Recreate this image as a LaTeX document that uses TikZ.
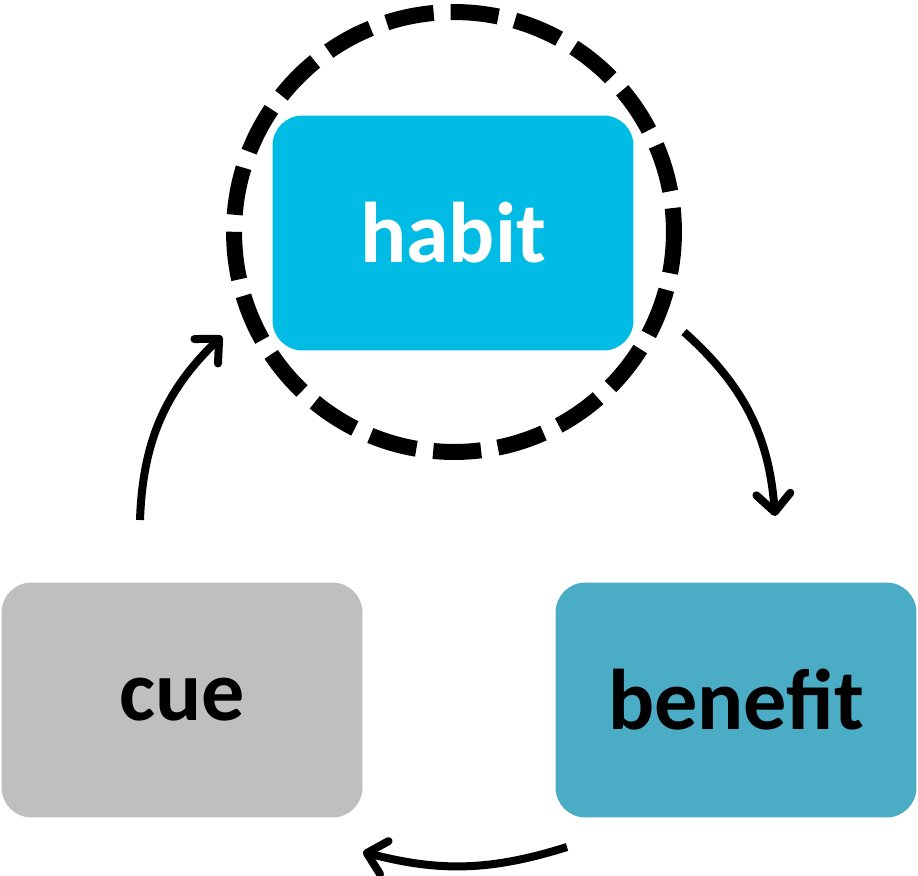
\documentclass[tikz,border=0pt]{standalone}
\usepackage{fontspec}
\setmainfont{Carlito}
\usetikzlibrary{arrows.meta}

\definecolor{habitblue}{HTML}{00BBE4}
\definecolor{benefitblue}{HTML}{4BACC6}
\definecolor{cuegray}{HTML}{BFBFBF}

\begin{document}
\begin{tikzpicture}[x=0.02cm, y=-0.02cm,
    box/.style={rounded corners=0.6cm, minimum width=7.22cm, minimum height=4.7cm,
        font=\fontsize{49}{59}\selectfont\bfseries},
    loop/.style={line width=0.16cm, -{Straight Barb[length=0.36cm, width=0.68cm, round]}}]
    \useasboundingbox (0,0) rectangle (918,875);
    \coordinate (C) at (454,232);
    \node[box, fill=habitblue, text=white] (habit) at (453,233) {habit};
    \node[box, fill=cuegray] (cue) at (182,700) {cue};
    \node[box, fill=benefitblue] (benefit) at (736,700) {benefit};
    % dashed ring round the habit
    \draw[line width=0.32cm, dash pattern=on 0.96cm off 0.34cm, dash phase=0.48cm] (C) circle [radius=4.4cm];
    % arrows of the loop
    \coordinate (A1) at (140,520);
    \coordinate (A2) at (222,336);
    \coordinate (B1) at (684,332);
    \coordinate (B2) at (775,516);
    \coordinate (D1) at (567,847);
    \coordinate (D2) at (363,852);
    \draw[loop] (A1) to[bend left=22] (A2);
    \draw[loop] (B1) to[bend left=22] (B2);
    \draw[loop] (D1) to[bend left=16] (D2);
\end{tikzpicture}
\end{document}
